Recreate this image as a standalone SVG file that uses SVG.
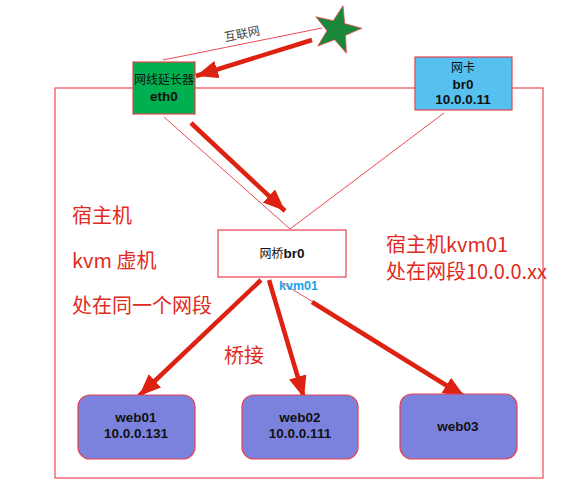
<svg xmlns="http://www.w3.org/2000/svg" width="585" height="500" viewBox="0 0 585 500">
<style>
.box{stroke:#e8404f;stroke-width:1.2}
.thin{stroke:#ee4a55;stroke-width:1;fill:none}
.thick{stroke:#dd2211;stroke-width:4.5;fill:none;marker-end:url(#ah)}
.lbl{font-family:"Liberation Sans","Noto Sans CJK SC",sans-serif;font-size:13.5px;fill:#111;text-anchor:middle}
.cjk{font-family:"Noto Sans CJK SC",sans-serif;font-size:12px}
.b{font-weight:bold}
.red{font-family:"Noto Sans CJK SC","Noto Sans",sans-serif;font-size:20px;fill:#e02a22}
</style>
<defs>
<marker id="ah" markerUnits="userSpaceOnUse" markerWidth="26" markerHeight="20" refX="22" refY="9" orient="auto" viewBox="0 0 26 20">
<path d="M0,0 L22,9 L0,18 Z" fill="#dd2211"/>
</marker>
</defs>
<rect x="55" y="88" width="488" height="390" fill="none" stroke="#ee4a55" stroke-width="1.2"/>
<g id="connectors">
<line class="thin" x1="163" y1="60" x2="322" y2="28"/>
<text x="243" y="38" transform="rotate(-11.5 243 38)" font-family="Noto Sans CJK SC,sans-serif" font-size="12" fill="#444" text-anchor="middle">互联网</text>
<line class="thick" x1="312" y1="40" x2="196" y2="76"/>
<line class="thin" x1="164" y1="117" x2="290" y2="229"/>
<line class="thin" x1="444" y1="113" x2="290" y2="229"/>
<line class="thick" x1="191" y1="123" x2="285" y2="211"/>
<line class="thick" x1="261" y1="280" x2="139" y2="396"/>
<line class="thick" x1="269" y1="280" x2="304" y2="398"/>
<line class="thin" x1="282" y1="283" x2="313" y2="302"/>
<line class="thick" x1="312" y1="302" x2="465" y2="397"/>
</g>
<g id="internet">
<polygon points="343,5.7 344.7,23.6 361.9,28.3 345.5,35.3 346.4,53.2 334.6,39.7 317.8,46.1 327,30.7 315.8,16.8 333.3,20.7" fill="#1b873a" stroke="#ee4a55" stroke-width="0.8"/>
</g>
<g id="eth0">
<rect class="box" x="133" y="62" width="62" height="52" fill="#00b050"/>
<text class="lbl cjk" x="164" y="84">网线延长器</text>
<text class="lbl b" x="164" y="101">eth0</text>
</g>
<g id="nic">
<rect class="box" x="415" y="57" width="97" height="53" fill="#56c1ef"/>
<text class="lbl cjk" x="463" y="72">网卡</text>
<text class="lbl b" x="463" y="88.5">br0</text>
<text class="lbl b" x="463" y="104">10.0.0.11</text>
</g>
<g id="bridge">
<rect class="box" x="218" y="230" width="128" height="47" fill="#fff"/>
<text class="lbl" x="282" y="258"><tspan class="cjk">网桥</tspan><tspan class="b">br0</tspan></text>
<text x="279" y="290" font-family="Liberation Sans,sans-serif" font-size="12.5" font-weight="bold" fill="#1aa3e8">kvm01</text>
</g>
<g id="web01">
<rect class="box" x="78" y="395" width="117" height="64" rx="12" fill="#7b82de"/>
<text class="lbl b" x="136" y="422">web01</text>
<text class="lbl b" x="136" y="438">10.0.0.131</text>
</g>
<g id="web02">
<rect class="box" x="242" y="395" width="116" height="64" rx="12" fill="#7b82de"/>
<text class="lbl b" x="300" y="422">web02</text>
<text class="lbl b" x="300" y="438">10.0.0.111</text>
</g>
<g id="web03">
<rect class="box" x="400" y="394" width="117" height="65" rx="12" fill="#7b82de"/>
<text class="lbl b" x="458" y="431">web03</text>
</g>
<g id="notes">
<text class="red" x="72" y="223">宿主机</text>
<text class="red" x="72" y="268">kvm 虚机</text>
<text class="red" x="72" y="313">处在同一个网段</text>
<text class="red" x="224" y="363">桥接</text>
<text class="red" x="386" y="252" font-size="19.5">宿主机kvm01</text>
<text class="red" x="386" y="279" font-size="19.5">处在网段10.0.0.xx</text>
</g>
</svg>
